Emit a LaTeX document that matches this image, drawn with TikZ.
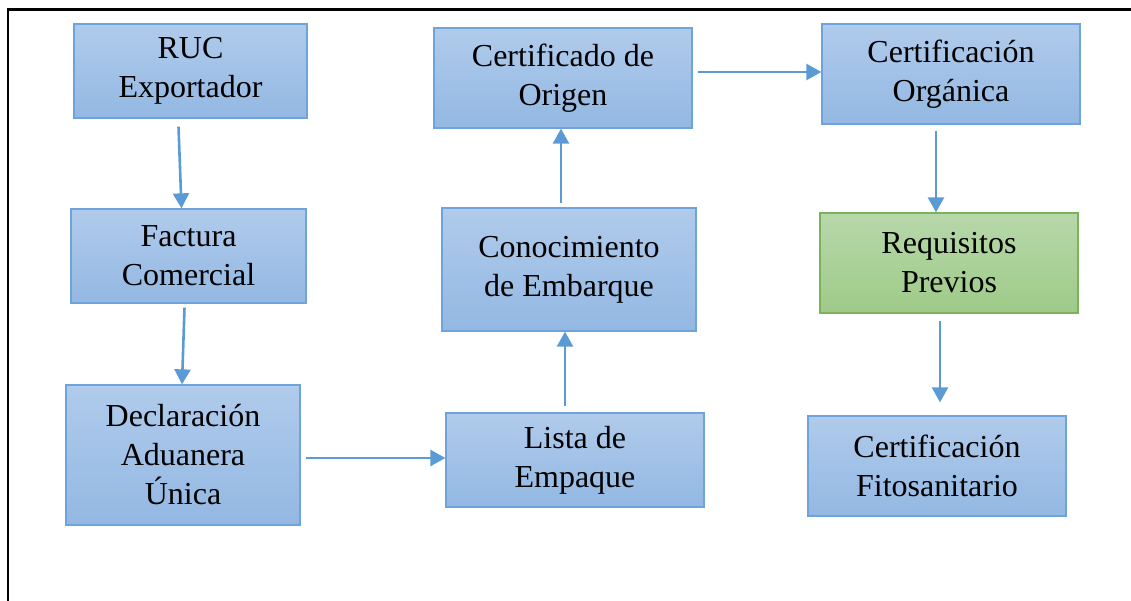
\documentclass[tikz,border=0pt]{standalone}
\usepackage{fontspec}
\setmainfont{Liberation Serif}
\usetikzlibrary{arrows.meta}

\definecolor{boxline}{HTML}{6FA3DB}
\definecolor{boxtop}{HTML}{B0CBEB}
\definecolor{boxbot}{HTML}{93B8E3}
\definecolor{grnline}{HTML}{7CB35A}
\definecolor{grntop}{HTML}{B7D8AA}
\definecolor{grnbot}{HTML}{9ECA88}
\definecolor{arrowblue}{HTML}{5B9BD5}

\tikzstyle{bluebox}=[rectangle, draw=boxline, line width=1.3pt, top color=boxtop, bottom color=boxbot, align=center, inner sep=0pt, font=\fontsize{32}{39}\selectfont]
\tikzstyle{greenbox}=[bluebox, draw=grnline, top color=grntop, bottom color=grnbot]
\tikzstyle{flow}=[draw=arrowblue, line width=2.6pt, -{Triangle[length=15pt,width=16pt]}]

\begin{document}
\begin{tikzpicture}[x=1pt,y=-1pt]
\useasboundingbox (0,0) rectangle (1131,600);
\draw [line width=2.6pt] (8,610) -- (8,9.5) -- (1140,9.5);

\node [bluebox, minimum width=233, minimum height=94] (ruc) at (190.5,71) {RUC\\Exportador};
\node [bluebox, minimum width=235, minimum height=94] (fac) at (188.5,256) {Factura\\Comercial};
\node [bluebox, minimum width=234, minimum height=140] (dau) at (183,455) {Declaración\\Aduanera\\Única};
\node [bluebox, minimum width=258, minimum height=94] (emp) at (575,460) {Lista de\\Empaque};
\node [bluebox, minimum width=254, minimum height=123] (emb) at (569,269.5) {Conocimiento\\de Embarque};
\node [bluebox, minimum width=258, minimum height=100] (ori) at (563,78) {Certificado de\\Origen};
\node [bluebox, minimum width=258, minimum height=100] (org) at (951,74) {Certificación\\Orgánica};
\node [greenbox, minimum width=258, minimum height=100] (pre) at (949,263) {Requisitos\\Previos};
\node [bluebox, minimum width=258, minimum height=100] (fit) at (937,466) {Certificación\\Fitosanitario};

\draw [flow] ([shift={(-12,8)}]ruc.south) -- ([shift={(-7,0)}]fac.north);
\draw [flow] ([shift={(-4,4)}]fac.south) -- ([shift={(-1,0)}]dau.north);
\draw [flow] ([shift={(5,3)}]dau.east) -- ([shift={(0,-2)}]emp.west);
\draw [flow] ([shift={(5,-6)}]ori.east) -- ([shift={(0,-2)}]org.west);
\draw [flow] ([shift={(-10,-6)}]emp.north) -- ([shift={(-4,0)}]emb.south);
\draw [flow] ([shift={(-8,-4)}]emb.north) -- ([shift={(-2,0)}]ori.south);
\draw [flow] ([shift={(-15,6)}]org.south) -- ([shift={(-13,0)}]pre.north);
\draw [flow] ([shift={(-9,7)}]pre.south) -- ([shift={(3,-13)}]fit.north);
\end{tikzpicture}
\end{document}
